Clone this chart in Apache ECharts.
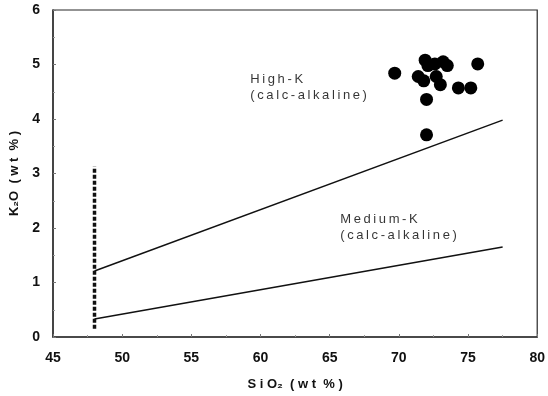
<!DOCTYPE html>
<html>
<head>
<meta charset="utf-8">
<script src="https://cdn.jsdelivr.net/npm/echarts@6/dist/echarts.min.js"></script>
<style>
html,body{margin:0;padding:0;background:#fff;}
#k2oChart{width:548px;height:396px;}
</style>
</head>
<body>
<div id="k2oChart"></div>
<script type="text/javascript">
// sample points (SiO2, K2O)
var sio2 = [69.7, 71.9, 72.1, 72.6, 73.2, 73.5, 75.7, 71.4, 71.8, 72.7, 73.0, 74.3, 75.2, 72.0, 72.0];
var k2o  = [4.84, 5.08, 4.98, 5.01, 5.05, 4.98, 5.01, 4.78, 4.70, 4.78, 4.63, 4.57, 4.57, 4.36, 3.71];

// boundary lines
var highKLine   = [[48, 1.21], [77.5, 3.98]];
var mediumKLine = [[48, 0.33], [77.5, 1.65]];
var basaltLimit = [[48, 0.15], [48, 3.13]];

// field labels
var fieldNames = ['High-K\n(calc-alkaline)', 'Medium-K\n(calc-alkaline)'];
var fieldPos = [[58.9, 4.97], [65.4, 2.39]];

var xTicks = [45, 80];
var yTicks = [0, 6];

var labelFont = 'Liberation Sans';

var chart = echarts.init(document.getElementById('k2oChart'));

var points = sio2.map(function (x, i) { return [x, k2o[i]]; });
var fieldData = fieldNames.map(function (n, i) { return { value: fieldPos[i], name: n }; });

var option = {
    backgroundColor: '#fff',
    animation: false,
    grid: {
        show: true,
        left: 49,
        right: 5,
        top: 10,
        bottom: 54,
        backgroundColor: 'rgba(255,255,255,0)',
        borderColor: 'rgb(40,40,40)',
        borderWidth: 1.2
    },
    xAxis: {
        type: 'value',
        min: xTicks[0],
        max: xTicks[1],
        interval: 5,
        name: 'S i O\u2082  ( w t  % )',
        nameLocation: 'middle',
        nameGap: 41,
        nameTextStyle: { color: '#111', fontSize: 13, fontWeight: 'bold', fontFamily: labelFont },
        axisLine: { show: true, onZero: false, lineStyle: { color: '#333', width: 1.5 } },
        axisTick: { show: true, inside: true, length: 3, lineStyle: { color: '#777' } },
        minorTick: { show: true, splitNumber: 2, length: 2, lineStyle: { color: '#999' } },
        splitLine: { show: false },
        axisLabel: { color: '#111', fontSize: 14, fontWeight: 'bold', fontFamily: labelFont, margin: 14 }
    },
    yAxis: {
        type: 'value',
        min: yTicks[0],
        max: yTicks[1],
        interval: 1,
        name: 'K\u2082O  ( w t  % )',
        nameLocation: 'middle',
        nameGap: 32,
        nameRotate: 90,
        nameTextStyle: { color: '#111', fontSize: 13, fontWeight: 'bold', fontFamily: labelFont },
        axisLine: { show: true, onZero: false, lineStyle: { color: '#333', width: 1.5 } },
        axisTick: { show: true, inside: true, length: 3, lineStyle: { color: '#777' } },
        minorTick: { show: true, splitNumber: 2, length: 2, lineStyle: { color: '#999' } },
        splitLine: { show: false },
        axisLabel: { color: '#111', fontSize: 14, fontWeight: 'bold', fontFamily: labelFont, margin: 13 }
    },
    series: [
        {
            type: 'line',
            data: highKLine,
            symbol: 'none',
            lineStyle: { color: '#111', width: 1.5 }
        },
        {
            type: 'line',
            data: mediumKLine,
            symbol: 'none',
            lineStyle: { color: '#111', width: 1.5 }
        },
        {
            type: 'line',
            data: basaltLimit,
            symbol: 'none',
            lineStyle: { color: '#111', width: 3.5, type: [4, 2] }
        },
        {
            type: 'scatter',
            data: points,
            symbol: 'circle',
            symbolSize: 13,
            itemStyle: { color: '#000', opacity: 1 }
        },
        {
            type: 'scatter',
            data: fieldData,
            symbolSize: 0,
            silent: true,
            label: {
                show: true,
                position: 'insideTopLeft',
                formatter: function (p) {
                    return p.name.split('\n').map(function (s) {
                        return s.split('').join('\u2009');
                    }).join('\n');
                },
                color: '#000',
                fontSize: 13,
                lineHeight: 16,
                fontFamily: labelFont,
                align: 'left',
                verticalAlign: 'top'
            }
        }
    ]
};

chart.setOption(option);
</script>
</body>
</html>
